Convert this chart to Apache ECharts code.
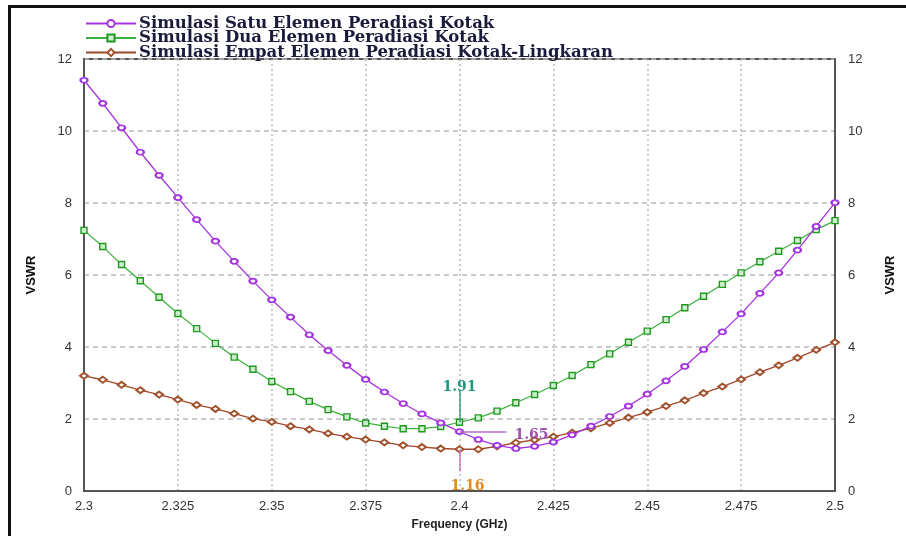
<!DOCTYPE html>
<html>
<head>
<meta charset="utf-8">
<script src="https://cdn.jsdelivr.net/npm/echarts@6/dist/echarts.min.js"></script>
<style>html,body{margin:0;padding:0;background:#fff;overflow:hidden;width:100%;height:100%}#c{position:absolute;left:0;top:0;width:100vw;height:100vh}</style>
</head>
<body>
<div id="c"></div>
<script>
const freq = [2.300,2.305,2.310,2.315,2.320,2.325,2.330,2.335,2.340,2.345,2.350,2.355,2.360,2.365,2.370,2.375,2.380,2.385,2.390,2.395,2.400,2.405,2.410,2.415,2.420,2.425,2.430,2.435,2.440,2.445,2.450,2.455,2.460,2.465,2.470,2.475,2.480,2.485,2.490,2.495,2.500];
const satu = [11.41,10.77,10.09,9.41,8.77,8.15,7.54,6.94,6.38,5.83,5.31,4.83,4.34,3.90,3.49,3.10,2.75,2.43,2.14,1.89,1.65,1.43,1.27,1.18,1.24,1.36,1.56,1.80,2.07,2.36,2.69,3.06,3.46,3.93,4.42,4.92,5.49,6.06,6.69,7.35,8.01];
const dua = [7.24,6.79,6.29,5.84,5.38,4.93,4.51,4.10,3.72,3.38,3.04,2.76,2.49,2.26,2.06,1.89,1.80,1.73,1.73,1.79,1.91,2.03,2.22,2.45,2.68,2.93,3.21,3.51,3.81,4.13,4.44,4.76,5.09,5.41,5.74,6.06,6.37,6.66,6.96,7.26,7.51];
const empat = [3.20,3.09,2.95,2.80,2.68,2.54,2.39,2.28,2.15,2.01,1.92,1.80,1.71,1.60,1.51,1.43,1.35,1.27,1.22,1.18,1.16,1.16,1.24,1.34,1.42,1.51,1.62,1.74,1.89,2.04,2.19,2.36,2.52,2.72,2.90,3.10,3.30,3.49,3.70,3.92,4.13];
const seriesNames = ['Simulasi Satu Elemen Peradiasi Kotak','Simulasi Dua Elemen Peradiasi Kotak','Simulasi Empat Elemen Peradiasi Kotak-Lingkaran'];
const markFreq = 2.4;
const markSatu = 1.65, markDua = 1.91, markEmpat = 1.16;

const pairs = v => freq.map((f,i)=>[f,v[i]]);
const serifBold = {fontFamily:'DejaVu Serif', fontWeight:'bold', fontSize:14};

const el = document.getElementById('c');
const k = (el.clientHeight || 536) / 536;
const chart = echarts.init(el);
chart.setOption({
  animation:false,
  backgroundColor:'#fff',
  graphic:[
    {type:'rect', shape:{x:8,y:5*k,width:900,height:3*k}, style:{fill:'#111'}},
    {type:'rect', shape:{x:8,y:5*k,width:3,height:560*k}, style:{fill:'#111'}}
  ],
  legend:{
    orient:'vertical', left:80, top:10*k, itemGap:14.5*k-17, itemWidth:50, itemHeight:9,
    textStyle:{fontFamily:'DejaVu Serif', fontWeight:'bold', fontSize:16.5, lineHeight:14.5, color:'#1a1a3a', padding:[0,0,0,-2]},
    data:seriesNames
  },
  grid:{left:84, right:71, top:59*k, bottom:36*k, show:true, borderColor:'#555', borderWidth:2},
  xAxis:{
    type:'value', min:2.3, max:2.5, interval:0.025,
    name:'Frequency (GHz)', nameLocation:'middle', nameGap:28*k,
    nameTextStyle:{fontFamily:'Liberation Sans', fontWeight:'bold', fontSize:12, color:'#222'},
    axisLine:{show:true, lineStyle:{color:'#555', width:2}},
    axisTick:{show:false},
    axisLabel:{fontFamily:'Liberation Sans', fontSize:13, color:'#333', margin:9*k},
    splitLine:{show:true, lineStyle:{color:'#bbb', type:[2,3], width:1.5}}
  },
  yAxis:[
    {type:'value', min:0, max:12, interval:2, position:'left',
     name:'VSWR', nameLocation:'middle', nameGap:46, nameRotate:90,
     nameTextStyle:{fontFamily:'Liberation Sans', fontWeight:'bold', fontSize:13, color:'#111'},
     axisLine:{show:true, lineStyle:{color:'#555', width:2}}, axisTick:{show:false},
     axisLabel:{fontFamily:'Liberation Sans', fontSize:13, color:'#333', margin:12},
     splitLine:{show:true, lineStyle:{color:'#bbb', type:[5,4], width:1.5}}},
    {type:'value', min:0, max:12, interval:2, position:'right',
     name:'VSWR', nameLocation:'middle', nameGap:49, nameRotate:90,
     nameTextStyle:{fontFamily:'Liberation Sans', fontWeight:'bold', fontSize:13, color:'#111'},
     axisLine:{show:true, lineStyle:{color:'#555', width:2}}, axisTick:{show:false},
     axisLabel:{fontFamily:'Liberation Sans', fontSize:13, color:'#333', margin:13},
     splitLine:{show:false}}
  ],
  series:[
    {name:seriesNames[0], type:'line', data:pairs(satu), color:'#a434e0',
     symbol:'emptyCircle', symbolSize:[7,5], lineStyle:{width:1.3, color:'#a434e0'}, itemStyle:{borderWidth:1.2}, z:3,
     markLine:{silent:true, symbol:'none', label:{show:false}, lineStyle:{color:'#b070c8', width:1.5, type:'solid'},
       data:[[{coord:[markFreq,markSatu]},{coord:[2.4125,markSatu]}]]},
     markPoint:{silent:true, symbol:'circle', symbolSize:0,
       data:[{coord:[markFreq,markSatu], label:{show:true, formatter:String(markSatu), offset:[72,4*k], color:'#a050b0', ...serifBold}}]}},
    {name:seriesNames[1], type:'line', data:pairs(dua), color:'#2aa52a',
     symbol:'rect', symbolSize:6, lineStyle:{width:1.2, color:'#3cb03c'}, itemStyle:{borderWidth:1.4, borderColor:'#1f9a1f', color:'#cfeecf'}, z:2,
     markLine:{silent:true, symbol:'none', label:{show:false}, lineStyle:{color:'#3a9a70', width:1.5, type:'solid'},
       data:[[{coord:[markFreq,markDua]},{coord:[markFreq,2.78]}]]},
     markPoint:{silent:true, symbol:'circle', symbolSize:0,
       data:[{coord:[markFreq,markDua], label:{show:true, formatter:String(markDua), offset:[0,-35*k], color:'#1a9a80', ...serifBold}}]}},
    {name:seriesNames[2], type:'line', data:pairs(empat), color:'#a0522d',
     symbol:'emptyDiamond', symbolSize:[8,6], lineStyle:{width:1.3, color:'#a0482a'}, itemStyle:{borderWidth:1.2, borderColor:'#c98a68'}, z:1,
     markLine:{silent:true, symbol:'none', label:{show:false}, lineStyle:{color:'#c87ac8', width:1.5, type:'solid'},
       data:[[{coord:[markFreq,markEmpat]},{coord:[markFreq,0.55]}]]},
     markPoint:{silent:true, symbol:'circle', symbolSize:0,
       data:[{coord:[markFreq,markEmpat], label:{show:true, formatter:String(markEmpat), offset:[8,37*k], color:'#e08a20', ...serifBold}}]}}
  ]
});
</script>
</body>
</html>
